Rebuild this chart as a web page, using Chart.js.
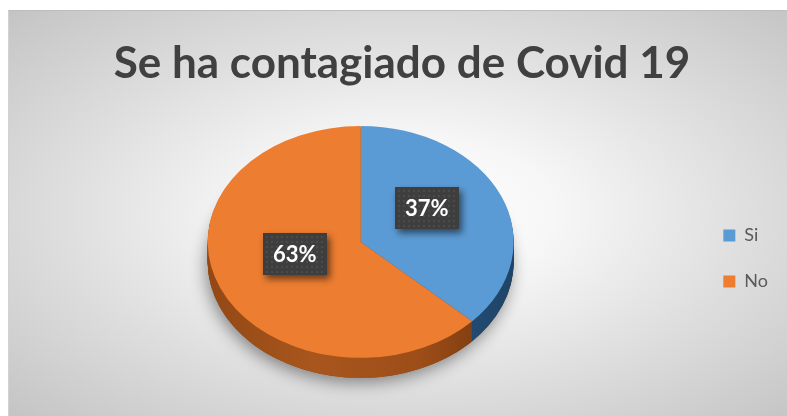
<!DOCTYPE html>
<html>
<head>
<meta charset="utf-8">
<script src="https://cdn.jsdelivr.net/npm/chart.js@4.4.1/dist/chart.umd.min.js"></script>
<style>
  html, body { margin: 0; padding: 0; width: 787px; height: 416px; overflow: hidden; background: #ffffff; }
  #frame {
    position: absolute; left: 8px; top: 10px; width: 779px; height: 406px;
    border-top: 1px solid #bdbdbd; border-left: 1px solid #d2d2d2;
    background: radial-gradient(ellipse farthest-corner at 51% 50%, #ffffff 0%, #f7f7f7 26%, #dfdfdf 60%, #c4c4c4 100%);
  }
  canvas { position: absolute; left: 0; top: 0; }
</style>
</head>
<body>
<div id="frame"><canvas id="chart" width="779" height="406"></canvas></div>
<script>
// Survey answers
const categories = ['Si', 'No'];
const values = [37, 63];
const chartTitle = 'Se ha contagiado de Covid 19';

// Slice colours: top face and side wall shading
const faceColors = ['#5B9BD5', '#ED7D31'];
const sideStops = [
  [[0, '#2f5f8c'], [0.5, '#2b5986'], [1, '#1f4468']],
  [[0, '#934815'], [0.35, '#a8561d'], [0.7, '#9c4d18'], [1, '#6f350d']]
];

const DEPTH = 20;     // thickness of the disc in px
const TILT = 0.758;   // vertical squash of the top face

const total = values.reduce((a, b) => a + b, 0);

const pie3d = {
  id: 'pie3d',
  beforeDatasetsDraw(chart) {
    const ctx = chart.ctx;
    const arcs = chart.getDatasetMeta(0).data;
    if (!arcs.length) return;
    const { x: cx, y: cy, outerRadius: r } = arcs[0];

    // soft shadow under the disc
    ctx.save();
    ctx.shadowColor = 'rgba(0,0,0,0.42)';
    ctx.shadowBlur = 16;
    ctx.shadowOffsetX = -2;
    ctx.shadowOffsetY = 5;
    ctx.fillStyle = '#8a4312';
    ctx.beginPath();
    ctx.ellipse(cx, cy + DEPTH, r, r * TILT, 0, 0, Math.PI * 2);
    ctx.fill();
    ctx.restore();

    // side wall, built from stacked slices
    const grads = arcs.map((arc, i) => {
      const g = ctx.createLinearGradient(cx - r, 0, cx + r, 0);
      sideStops[i].forEach(([o, c]) => g.addColorStop(o, c));
      return g;
    });
    for (let d = DEPTH; d >= 1; d--) {
      arcs.forEach((arc, i) => {
        ctx.beginPath();
        ctx.moveTo(cx, cy + d);
        ctx.ellipse(cx, cy + d, r, r * TILT, 0, arc.startAngle, arc.endAngle);
        ctx.closePath();
        ctx.fillStyle = grads[i];
        ctx.fill();
      });
    }

    // squash the top face drawn by the library
    ctx.save();
    ctx.translate(cx, cy);
    ctx.scale(1, TILT);
    ctx.translate(-cx, -cy);
  },
  afterDatasetsDraw(chart) {
    const ctx = chart.ctx;
    ctx.restore();
    const arcs = chart.getDatasetMeta(0).data;
    if (!arcs.length) return;
    const { x: cx, y: cy, outerRadius: r } = arcs[0];

    // percentage callouts
    arcs.forEach((arc, i) => {
      const mid = (arc.startAngle + arc.endAngle) / 2;
      const lx = cx + 0.47 * r * Math.cos(mid);
      const ly = cy + 0.5 * r * TILT * Math.sin(mid) - 11;
      const txt = Math.round(values[i] / total * 100) + '%';
      ctx.font = 'bold 22px Lato';
      const w = Math.round(ctx.measureText(txt).width + 20);
      const h = 42;
      const bx = Math.round(lx - w / 2), by = Math.round(ly - h / 2);

      ctx.save();
      ctx.shadowColor = 'rgba(0,0,0,0.55)';
      ctx.shadowBlur = 7;
      ctx.shadowOffsetX = 3;
      ctx.shadowOffsetY = 4;
      ctx.fillStyle = '#3e3e3e';
      ctx.fillRect(bx, by, w, h);
      ctx.restore();

      // faint dotted texture of the callout box
      ctx.save();
      ctx.fillStyle = 'rgba(255,255,255,0.07)';
      for (let yy = by + 3; yy < by + h - 1; yy += 5) {
        for (let xx = bx + 3; xx < bx + w - 1; xx += 5) {
          ctx.fillRect(xx, yy, 2, 2);
        }
      }
      ctx.restore();

      ctx.fillStyle = '#ffffff';
      ctx.textAlign = 'center';
      ctx.textBaseline = 'middle';
      ctx.fillText(txt, lx, ly + 1);
    });
  }
};

new Chart(document.getElementById('chart'), {
  type: 'pie',
  data: {
    labels: categories,
    datasets: [{
      data: values,
      backgroundColor: faceColors,
      borderWidth: 0,
      hoverOffset: 0,
      clip: false
    }]
  },
  options: {
    responsive: false,
    animation: false,
    events: [],
    radius: 153,
    layout: { padding: { left: 17, right: 10, top: 0, bottom: 31 } },
    plugins: {
      tooltip: { enabled: false },
      title: {
        display: true,
        text: chartTitle,
        color: '#404040',
        font: { family: 'Lato', size: 44, weight: 'bold', lineHeight: 1.2 },
        padding: { top: 26, bottom: 8 }
      },
      legend: {
        display: true,
        position: 'right',
        fullSize: false,
        align: 'center',
        title: { display: true, text: ' ', font: { size: 10 }, padding: { top: 21, bottom: 0 } },
        labels: {
          boxWidth: 12,
          boxHeight: 12,
          padding: 28,
          color: '#595959',
          font: { family: 'Lato', size: 18 }
        }
      }
    }
  },
  plugins: [pie3d]
});
</script>
</body>
</html>
